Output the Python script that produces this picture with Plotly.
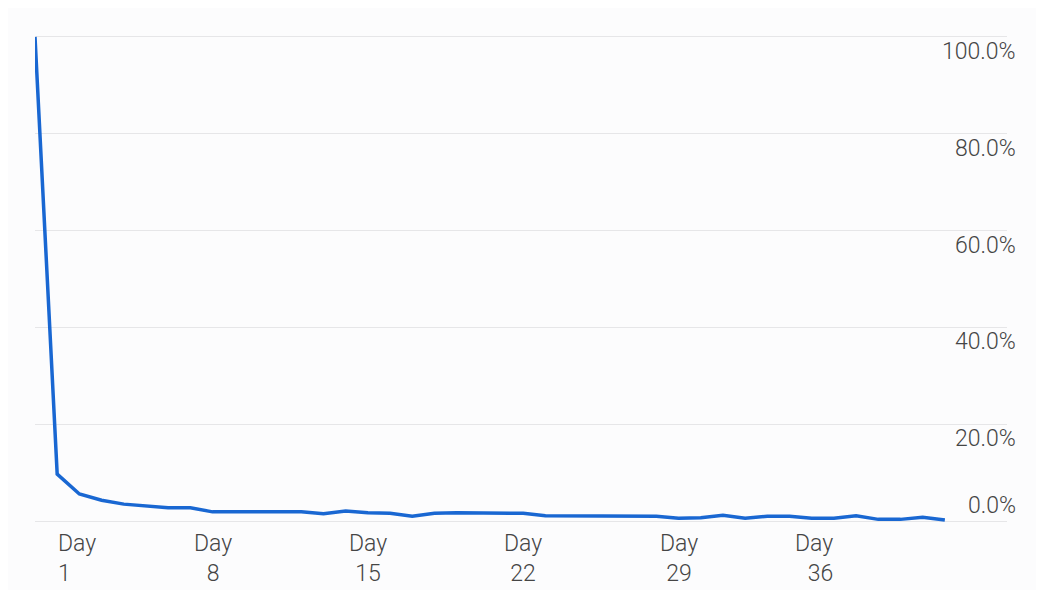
import plotly.graph_objects as go

# ---- data ----
days = list(range(0, 42))
retention = [100.0, 9.7, 5.6, 4.3, 3.5, 3.1, 2.75, 2.75, 1.9, 1.9,
             1.9, 1.9, 1.9, 1.5, 2.1, 1.7, 1.6, 1.0, 1.6, 1.7,
             1.7, 1.7, 1.6, 1.1, 1.1, 1.1, 1.1, 1.1, 1.0, 0.6,
             0.7, 1.2, 0.6, 1.0, 1.0, 0.6, 0.6, 1.1, 0.35, 0.35,
             0.8, 0.2]
y_ticks = [0, 20, 40, 60, 80, 100]
y_tick_labels = ["0.0%", "20.0%", "40.0%", "60.0%", "80.0%", "100.0%"]
x_ticks = [1, 8, 15, 22, 29, 36]
x_tick_labels = ["Day<br>1", "Day<br>8", "Day<br>15", "Day<br>22", "Day<br>29", "Day<br>36"]

FONT = "Roboto"
TXT = "#454545"
BG = "#fcfcfd"
FSIZE = 23
tick_font = dict(family=FONT, size=FSIZE, color=TXT, weight=300)

fig = go.Figure()
fig.add_trace(go.Scatter(
    x=days, y=retention, mode="lines",
    line=dict(color="#1967d2", width=3.5),
    hoverinfo="skip", showlegend=False,
))

annotations = []
for v, t in zip(y_ticks, y_tick_labels):
    annotations.append(dict(
        x=1.0115, xref="paper", xanchor="right",
        y=v, yref="y", yanchor="middle",
        yshift=16 if v == 0 else -14.5,
        text=t, showarrow=False, font=tick_font,
    ))
for i, (d, t) in enumerate(zip(x_ticks, x_tick_labels)):
    if i == 0:
        anchor, align = "left", "left"
    elif i == len(x_ticks) - 1:
        anchor, align = "right", "right"
    else:
        anchor, align = "center", "center"
    annotations.append(dict(
        x=d, xref="x", xanchor=anchor, align=align,
        y=0, yref="y", yanchor="middle", yshift=-37,
        text=t, showarrow=False, font=tick_font, borderpad=0,
    ))

fig.update_layout(
    width=1028, height=582,
    margin=dict(l=27, r=29, t=26, b=67, pad=0),
    paper_bgcolor=BG, plot_bgcolor=BG,
    xaxis=dict(range=[0, 43.8], showgrid=False, zeroline=False,
               showticklabels=False, ticks="", showline=False, fixedrange=True),
    yaxis=dict(range=[-0.4, 100.6], tickvals=y_ticks, showticklabels=False,
               showgrid=True, gridcolor="#e6e6e8", gridwidth=1,
               zeroline=False, ticks="", showline=False, fixedrange=True),
    annotations=annotations,
    font=dict(family=FONT, color=TXT),
)

fig.write_html("out.html")
